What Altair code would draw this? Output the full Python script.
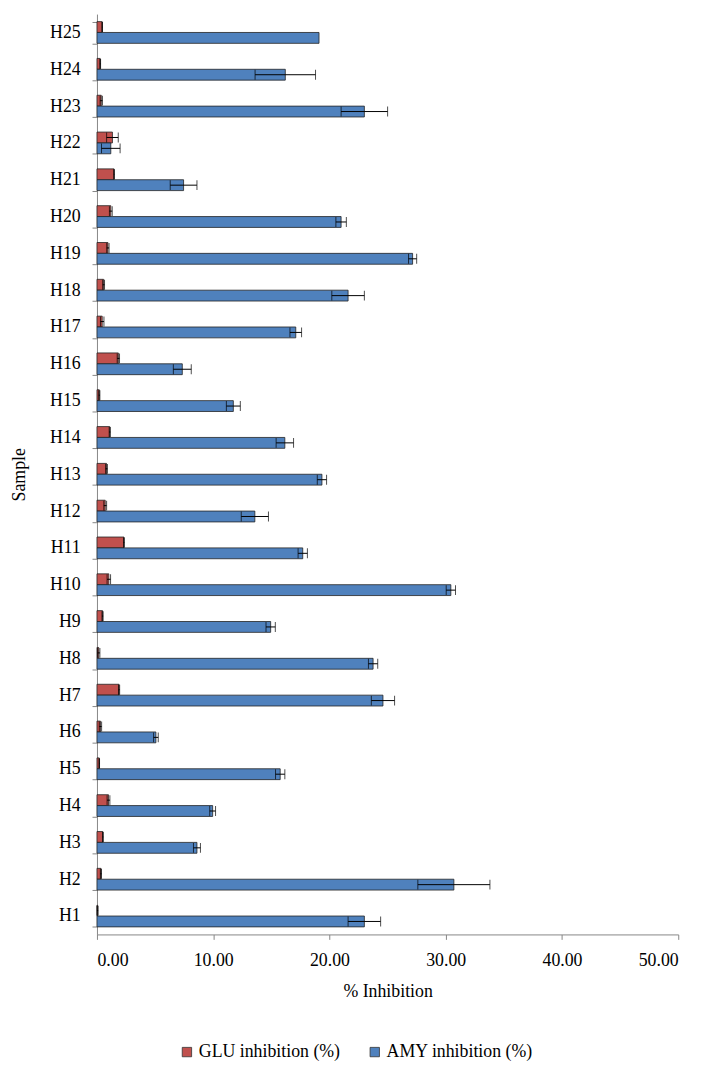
import altair as alt
import pandas as pd

samples = [f"H{i}" for i in range(1, 26)]
series_names = ["GLU inhibition (%)", "AMY inhibition (%)"]
series_colors = ["#C0504D", "#4F81BD"]

glu_values = [0.05, 0.34, 0.51, 0.99, 0.20, 0.30, 1.90, 0.15, 0.48, 1.02,
              2.32, 0.71, 0.82, 1.10, 0.20, 1.84, 0.45, 0.57, 0.94, 1.19,
              1.47, 1.33, 0.37, 0.28, 0.45]
glu_errors = [0.05, 0.05, 0.03, 0.12, 0.02, 0.10, 0.05, 0.10, 0.05, 0.15,
              0.03, 0.12, 0.08, 0.05, 0.05, 0.10, 0.15, 0.08, 0.10, 0.12,
              0.02, 0.50, 0.10, 0.03, 0.02]
amy_values = [23.00, 30.70, 8.60, 9.95, 15.76, 5.07, 24.60, 23.75, 14.94, 30.44,
              17.70, 13.58, 19.35, 16.16, 11.73, 7.34, 17.10, 21.60, 27.15, 21.00,
              7.45, 1.19, 23.00, 16.20, 19.10]
amy_errors = [1.40, 3.10, 0.30, 0.25, 0.40, 0.20, 1.00, 0.40, 0.40, 0.40,
              0.40, 1.17, 0.40, 0.75, 0.60, 0.77, 0.50, 1.40, 0.35, 0.45,
              1.15, 0.80, 2.00, 2.60, 0.00]
x_ticks = [0, 10, 20, 30, 40, 50]

rows = []
for s, v, e in zip(samples, glu_values, glu_errors):
    rows.append({"sample": s, "series": series_names[0], "value": v, "lo": v - e, "hi": v + e, "err": e})
for s, v, e in zip(samples, amy_values, amy_errors):
    rows.append({"sample": s, "series": series_names[1], "value": v, "lo": v - e, "hi": v + e, "err": e})
df = pd.DataFrame(rows)

FONT = "Liberation Serif"
order_top_down = samples[::-1]

y_enc = alt.Y(
    "sample:N",
    sort=order_top_down,
    scale=alt.Scale(domain=order_top_down, paddingInner=0.41, paddingOuter=0.205),
    axis=alt.Axis(
        title="Sample", titleFont=FONT, titleFontSize=18, titleFontWeight="normal",
        titleColor="black", titlePadding=21,
        labelFont=FONT, labelFontSize=18, labelColor="black", labelPadding=12,
        tickBand="extent", tickSize=5, tickColor="#868686", domainColor="#868686",
        grid=False,
    ),
)
yoff_enc = alt.YOffset("series:N", sort=series_names, scale=alt.Scale(domain=series_names))

x_enc = alt.X(
    "value:Q",
    scale=alt.Scale(domain=[0, 50], nice=False),
    axis=alt.Axis(
        title="% Inhibition", titleFont=FONT, titleFontSize=18, titleFontWeight="normal",
        titleColor="black", titlePadding=14,
        labelFont=FONT, labelFontSize=18, labelColor="black", labelPadding=12,
        values=x_ticks, format=".2f", tickSize=5, tickColor="#868686",
        domainColor="#868686", grid=False,
    ),
)

bars = alt.Chart(df).mark_bar(stroke="#222222", strokeWidth=0.8).encode(
    x=x_enc,
    y=y_enc,
    yOffset=yoff_enc,
    color=alt.Color(
        "series:N",
        sort=series_names,
        scale=alt.Scale(domain=series_names, range=series_colors),
        legend=alt.Legend(
            title=None, orient="none", direction="horizontal",
            legendX=82, legendY=1041,
            symbolType="square", symbolSize=90,
            symbolStrokeColor="#333333", symbolStrokeWidth=0.8,
            labelFont=FONT, labelFontSize=18, labelColor="black",
            labelOffset=3, columnPadding=26,
        ),
    ),
)

err_df = alt.Chart(df).transform_filter("datum.err > 0")

err_line = err_df.mark_rule(color="black", strokeWidth=1).encode(
    x="lo:Q", x2="hi:Q", y=y_enc, yOffset=yoff_enc
)
cap_lo = err_df.mark_tick(color="black", thickness=1, size=10).encode(
    x="lo:Q", y=y_enc, yOffset=yoff_enc
)
cap_hi = err_df.mark_tick(color="black", thickness=1, size=10).encode(
    x="hi:Q", y=y_enc, yOffset=yoff_enc
)

chart = alt.layer(bars, err_line, cap_lo, cap_hi).properties(
    width=588,
    height=931,
    autosize=alt.AutoSizeParams(type="none"),
    padding={"left": 90, "top": 0, "right": 22, "bottom": 132},
).configure(font=FONT).configure_view(stroke=None)

chart.save("out.html", embed_options={"renderer": "svg", "actions": False})
